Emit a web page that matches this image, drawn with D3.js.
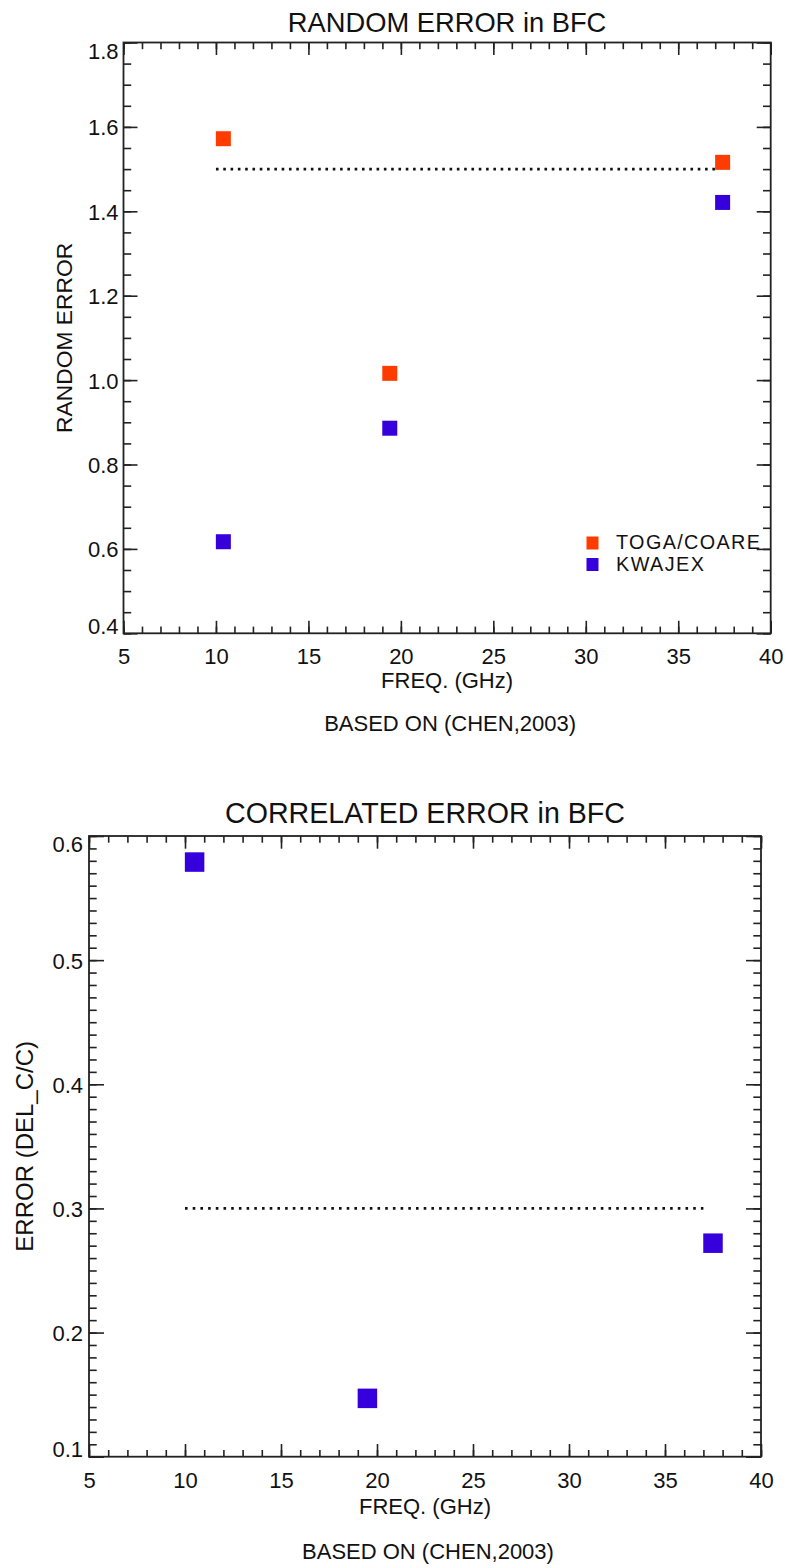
<!DOCTYPE html>
<html>
<head>
<meta charset="utf-8">
<script src="https://cdn.jsdelivr.net/npm/d3@7"></script>
<style>
  html, body { margin: 0; padding: 0; background: #ffffff; }
  svg { display: block; }
  text { font-family: "Liberation Sans", Arial, sans-serif; fill: #111; }
</style>
</head>
<body>
<svg id="fig" width="787" height="1568"></svg>
<script>
// ---- data ----
const freqTicks = [5, 10, 15, 20, 25, 30, 35, 40];

// Panel 1: random error
const randomTicks = [0.4, 0.6, 0.8, 1.0, 1.2, 1.4, 1.6, 1.8];
const togaFreq = [10.4, 19.4, 37.4];
const togaRandom = [1.572, 1.016, 1.516];
const kwajexFreq = [10.4, 19.4, 37.4];
const kwajexRandom = [0.617, 0.886, 1.421];
const randomRef = { from: 10, to: 37, value: 1.5 };
const seriesNames = ["TOGA/COARE", "KWAJEX"];

// Panel 2: correlated error
const corrTicks = [0.1, 0.2, 0.3, 0.4, 0.5, 0.6];
const corrFreq = [10.5, 19.5, 37.5];
const corrError = [0.579, 0.147, 0.272];
const corrRef = { from: 10, to: 37, value: 0.3 };

const COL_TOGA = "#ff3c00";
const COL_KWAJ = "#3600dc";
const AXIS_COL = "#222";

const svg = d3.select("#fig");

function panel(o) {
  const x = d3.scaleLinear().domain([5, 40]).range([o.left, o.right]);
  const y = d3.scaleLinear().domain(o.yDomain).range([o.bottom, o.top]);
  const g = svg.append("g");

  const xMinor = d3.range(5, 40.001, 1);
  const yMinor = d3.range(o.yDomain[0], o.yDomain[1] + 1e-9, o.yMinorStep);

  // unlabelled ticks (minor on all sides, major on top and right)
  const addTicks = (axis, transform, len, values) => {
    const a = g.append("g").attr("transform", transform)
      .call(axis.tickValues(values).tickSizeInner(-len).tickSizeOuter(0).tickFormat(""));
    a.select(".domain").remove();
    a.selectAll("line").attr("stroke", AXIS_COL).attr("stroke-width", 1.6);
    return a;
  };
  addTicks(d3.axisBottom(x), `translate(0,${o.bottom})`, o.xMinorLen, xMinor);
  addTicks(d3.axisTop(x), `translate(0,${o.top})`, o.xMinorLen, xMinor);
  addTicks(d3.axisLeft(y), `translate(${o.left},0)`, o.yMinorLen, yMinor);
  addTicks(d3.axisRight(y), `translate(${o.right},0)`, o.yMinorLen, yMinor);
  addTicks(d3.axisTop(x), `translate(0,${o.top})`, o.xMajorLen, freqTicks);
  addTicks(d3.axisRight(y), `translate(${o.right},0)`, o.yMajorLen, o.yTicks);

  // labelled major ticks
  const xa = g.append("g").attr("transform", `translate(0,${o.bottom})`)
    .call(d3.axisBottom(x).tickValues(freqTicks).tickSizeInner(-o.xMajorLen).tickSizeOuter(0)
      .tickPadding(o.xPad).tickFormat(d3.format("d")));
  xa.select(".domain").remove();
  xa.selectAll("line").attr("stroke", AXIS_COL).attr("stroke-width", 1.6);
  xa.selectAll("text").attr("font-size", 22).attr("font-family", "Liberation Sans, Arial, sans-serif").attr("fill", "#111");

  const ya = g.append("g").attr("transform", `translate(${o.left},0)`)
    .call(d3.axisLeft(y).tickValues(o.yTicks).tickSizeInner(-o.yMajorLen).tickSizeOuter(0)
      .tickPadding(o.yPad).tickFormat(d3.format(".1f")));
  ya.select(".domain").remove();
  ya.selectAll("line").attr("stroke", AXIS_COL).attr("stroke-width", 1.6);
  // end labels are kept inside the frame: top one hangs below, bottom one sits on the axis
  ya.selectAll("text").attr("font-size", 22).attr("font-family", "Liberation Sans, Arial, sans-serif").attr("fill", "#111")
    .attr("dy", (d) => d === o.yDomain[1] ? "0.72em" : d === o.yDomain[0] ? "0em" : "0.36em");

  // frame
  g.append("rect")
    .attr("x", o.left).attr("y", o.top)
    .attr("width", o.right - o.left).attr("height", o.bottom - o.top)
    .attr("fill", "none").attr("stroke", AXIS_COL).attr("stroke-width", 1.8);

  // reference level
  g.append("line")
    .attr("x1", x(o.ref.from)).attr("x2", x(o.ref.to))
    .attr("y1", y(o.ref.value)).attr("y2", y(o.ref.value))
    .attr("stroke", "#111").attr("stroke-width", 2.6).attr("stroke-dasharray", o.dash);

  // square symbols
  o.series.forEach((s) => {
    g.append("g").selectAll("rect")
      .data(s.xs.map((v, i) => [v, s.ys[i]]))
      .join("rect")
      .attr("x", (d) => x(d[0]) - o.sym / 2)
      .attr("y", (d) => y(d[1]) - o.sym / 2)
      .attr("width", o.sym).attr("height", o.sym)
      .attr("fill", s.color);
  });

  // titles
  g.append("text").attr("x", (o.left + o.right) / 2).attr("y", o.titleY)
    .attr("text-anchor", "middle").attr("font-size", o.titleSize).text(o.title);
  g.append("text").attr("x", (o.left + o.right) / 2).attr("y", o.xTitleY)
    .attr("text-anchor", "middle").attr("font-size", 22).text("FREQ. (GHz)");
  g.append("text").attr("x", (o.left + o.right) / 2 + 3).attr("y", o.noteY)
    .attr("text-anchor", "middle").attr("font-size", 22).text("BASED ON (CHEN,2003)");
  g.append("text")
    .attr("transform", `translate(${o.yTitleX},${(o.top + o.bottom) / 2}) rotate(-90)`)
    .attr("text-anchor", "middle").attr("font-size", o.yTitleSize).text(o.yTitle);

  return { x, y, g };
}

const p1 = panel({
  left: 123.5, right: 770.7, top: 42.5, bottom: 633.3,
  yDomain: [0.4, 1.8], yTicks: randomTicks, yMinorStep: 0.05,
  xMajorLen: 12.5, xMinorLen: 6.7, yMajorLen: 14, yMinorLen: 7.7,
  xPad: 15, yPad: 5,
  ref: randomRef, dash: "2.6,4.7", sym: 15,
  series: [
    { xs: togaFreq, ys: togaRandom, color: COL_TOGA },
    { xs: kwajexFreq, ys: kwajexRandom, color: COL_KWAJ }
  ],
  title: "RANDOM ERROR in BFC", titleY: 31.5, titleSize: 27.3,
  xTitleY: 687.5, noteY: 731,
  yTitle: "RANDOM ERROR", yTitleX: 71.5, yTitleSize: 22.8
});

// legend
const legend = p1.g.append("g");
[COL_TOGA, COL_KWAJ].forEach((c, i) => {
  legend.append("rect").attr("x", 586.5).attr("y", 536.5 + i * 21.5)
    .attr("width", 12).attr("height", 13).attr("fill", c);
  legend.append("text").attr("x", 616).attr("y", 548.5 + i * 22)
    .attr("font-size", 19.8).attr("textLength", i === 0 ? 144 : 88).text(seriesNames[i]);
});

panel({
  left: 89, right: 761, top: 836, bottom: 1456.7,
  yDomain: [0.1, 0.6], yTicks: corrTicks, yMinorStep: 0.01,
  xMajorLen: 12.7, xMinorLen: 6.7, yMajorLen: 15, yMinorLen: 7.7,
  xPad: 16, yPad: 6,
  ref: corrRef, dash: "2.6,5.1", sym: 19.5,
  series: [{ xs: corrFreq, ys: corrError, color: COL_KWAJ }],
  title: "CORRELATED ERROR in BFC", titleY: 823, titleSize: 28.6,
  xTitleY: 1514, noteY: 1559,
  yTitle: "ERROR (DEL_C/C)", yTitleX: 32.5, yTitleSize: 24
});
</script>
</body>
</html>
